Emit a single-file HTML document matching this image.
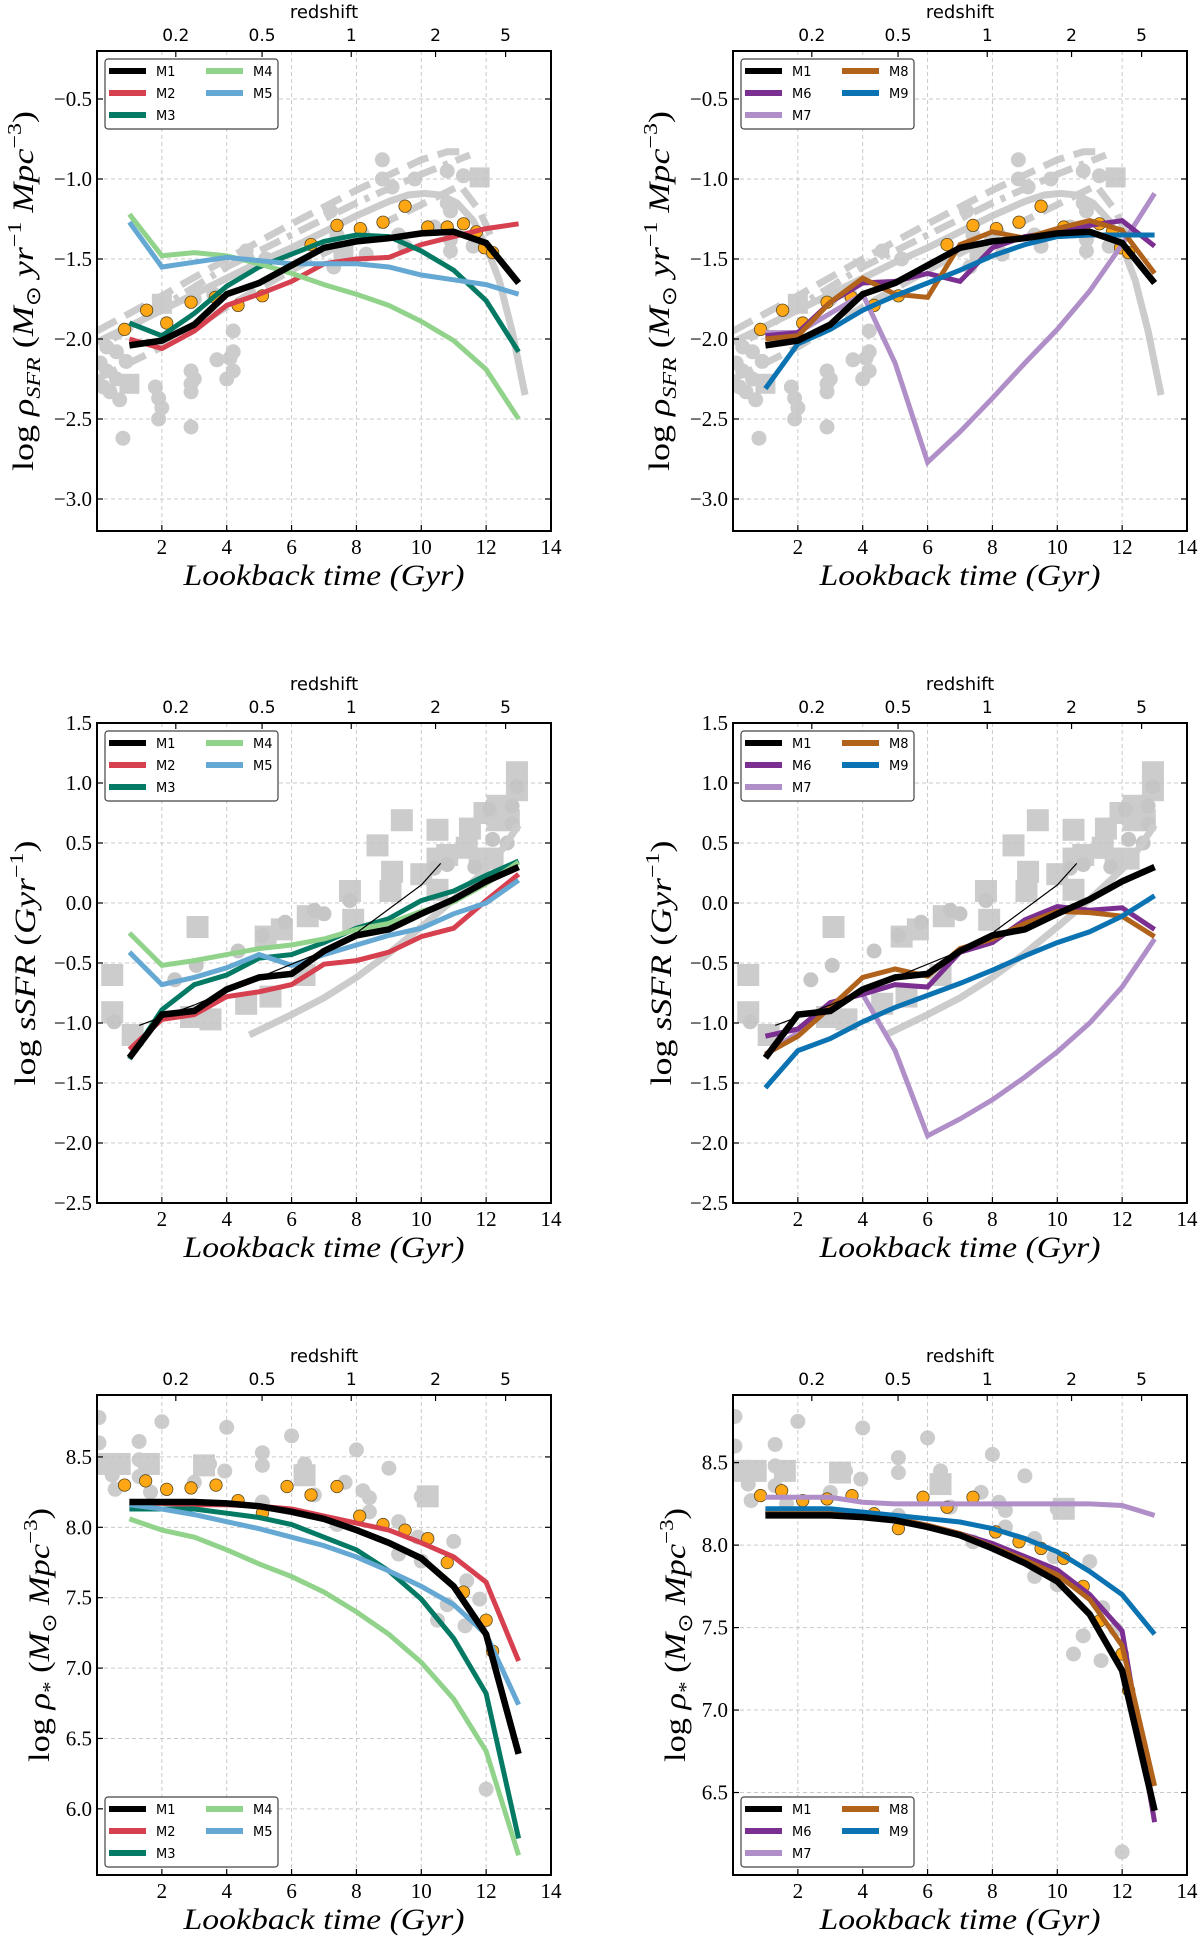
<!DOCTYPE html>
<html><head><meta charset="utf-8"><title>Cosmic SFR, sSFR and stellar mass density</title>
<style>
html,body{margin:0;padding:0;background:#fff;}
svg{display:block;}
</style></head>
<body>
<svg id="fig" xmlns="http://www.w3.org/2000/svg" width="1200" height="1941" viewBox="0 0 1200 1941"></svg>
<script>
// ---------- data ----------
const gyr = [1,2,3,4,5,6,7,8,9,10,11,12,13];
const xTicks = [2,4,6,8,10,12,14];
const zTickLabels = ['0.2','0.5','1','2','5'];
const zTickGyr = [2.43,5.09,7.84,10.44,12.6];
const sfrTicks = [-3.0,-2.5,-2.0,-1.5,-1.0,-0.5];
const ssfrTicks = [-2.5,-2.0,-1.5,-1.0,-0.5,0.0,0.5,1.0,1.5];
const massTicksL = [6.0,6.5,7.0,7.5,8.0,8.5];
const massTicksR = [6.5,7.0,7.5,8.0,8.5];

// SFR density
const m1Sfr = [-2.04,-2.01,-1.91,-1.72,-1.65,-1.54,-1.43,-1.39,-1.37,-1.34,-1.33,-1.40,-1.65];
const m2Sfr = [-2.00,-2.06,-1.95,-1.79,-1.72,-1.64,-1.53,-1.50,-1.49,-1.41,-1.36,-1.31,-1.28];
const m3Sfr = [-1.90,-1.98,-1.84,-1.67,-1.55,-1.47,-1.39,-1.35,-1.36,-1.45,-1.57,-1.76,-2.08];
const m4Sfr = [-1.22,-1.48,-1.46,-1.48,-1.53,-1.59,-1.66,-1.72,-1.79,-1.89,-2.01,-2.19,-2.50];
const m5Sfr = [-1.27,-1.55,-1.52,-1.49,-1.51,-1.53,-1.53,-1.53,-1.55,-1.60,-1.63,-1.66,-1.72];
const m6Sfr = [-1.98,-1.96,-1.77,-1.65,-1.64,-1.59,-1.64,-1.43,-1.36,-1.33,-1.29,-1.26,-1.42];
const m7Sfr = [-1.96,-1.96,-1.84,-1.72,-2.15,-2.77,-2.58,-2.37,-2.15,-1.94,-1.70,-1.41,-1.09];
const m8Sfr = [-2.00,-1.98,-1.77,-1.62,-1.72,-1.74,-1.41,-1.33,-1.37,-1.31,-1.26,-1.32,-1.59];
const m9Sfr = [-2.31,-2.03,-1.94,-1.82,-1.73,-1.65,-1.57,-1.48,-1.41,-1.36,-1.35,-1.35,-1.35];

const sfrOrangeT = [0.85,1.53,2.15,2.9,3.65,4.35,5.1,6.6,7.4,8.12,8.82,9.5,10.2,10.8,11.3,11.7,11.95,12.2];
const sfrOrangeV = [-1.94,-1.82,-1.90,-1.77,-1.74,-1.79,-1.73,-1.41,-1.29,-1.31,-1.27,-1.17,-1.30,-1.30,-1.28,-1.33,-1.43,-1.46];
const sfrGrayT = [0.1,0.3,0.4,0.6,0.7,0.8,0.6,0.3,1.0,1.8,1.9,1.9,2.0,2.9,2.9,2.9,2.9,3.0,3.7,4.0,4.1,4.2,4.2,4.2,3.0,3.6,4.6,5.2,7.2,7.3,7.4,8.3,8.8,8.8,9.1,9.3,9.5,9.8,10.4,10.8,10.8,10.9,10.9,10.9,11.3,11.6,0.2,0.9];
const sfrGrayV = [-2.15,-2.05,-2.33,-2.25,-2.38,-2.62,-2.08,-2.20,-2.27,-2.30,-2.37,-2.50,-2.43,-2.20,-2.28,-2.33,-2.55,-2.25,-2.13,-2.25,-2.12,-2.08,-1.95,-2.20,-1.75,-1.72,-1.45,-1.50,-1.20,-1.55,-1.35,-1.47,-1.00,-0.88,-1.05,-1.35,-1.42,-1.00,-1.30,-0.95,-1.15,-1.20,-1.38,-1.45,-0.98,-1.42,-2.30,-2.14];
const sfrSquareT = [11.8,1.0,2.0,7.6];
const sfrSquareV = [-0.99,-2.28,-1.78,-1.45];
const sfrSolidT = [0,1,2,3,4,5,6,7,8,9,9.6,10.1,10.6,11.1,11.6,12.0,12.4,12.8,13.2];
const sfrSolidV = [-2.02,-1.92,-1.82,-1.72,-1.62,-1.52,-1.43,-1.33,-1.23,-1.14,-1.10,-1.09,-1.10,-1.15,-1.26,-1.42,-1.63,-1.95,-2.35];
const sfrDashT = [0,2,4,6,8,10,10.8,11.3];
const sfrDashV = [-1.95,-1.73,-1.50,-1.28,-1.07,-0.88,-0.83,-0.83];
const sfrDashDotT = [0.5,2,4,6,8,10,11.5];
const sfrDashDotV = [-2.00,-1.80,-1.55,-1.35,-1.15,-0.97,-0.85];
const sfrLowDashT = [0,2,4,6,8,10,11.2,11.8,12.2];
const sfrLowDashV = [-2.25,-2.05,-1.80,-1.57,-1.36,-1.16,-1.04,-1.20,-1.38];

// sSFR
const m1Ssfr = [-1.29,-0.93,-0.90,-0.72,-0.62,-0.59,-0.40,-0.27,-0.22,-0.09,0.03,0.18,0.30];
const m2Ssfr = [-1.22,-0.97,-0.93,-0.78,-0.74,-0.68,-0.51,-0.48,-0.41,-0.28,-0.21,0.02,0.24];
const m3Ssfr = [-1.30,-0.89,-0.68,-0.60,-0.46,-0.43,-0.33,-0.21,-0.13,0.02,0.10,0.23,0.35];
const m4Ssfr = [-0.25,-0.52,-0.48,-0.43,-0.38,-0.35,-0.30,-0.22,-0.17,-0.07,0.01,0.16,0.34];
const m5Ssfr = [-0.41,-0.68,-0.62,-0.54,-0.43,-0.52,-0.43,-0.35,-0.27,-0.21,-0.09,0.00,0.19];
const m6Ssfr = [-1.11,-1.05,-0.83,-0.76,-0.68,-0.70,-0.41,-0.33,-0.14,-0.03,-0.06,-0.04,-0.22];
const m7Ssfr = [-1.26,-1.08,-0.83,-0.76,-1.23,-1.94,-1.80,-1.64,-1.45,-1.24,-1.00,-0.70,-0.30];
const m8Ssfr = [-1.26,-1.11,-0.87,-0.62,-0.55,-0.61,-0.38,-0.30,-0.17,-0.07,-0.08,-0.11,-0.28];
const m9Ssfr = [-1.54,-1.23,-1.13,-0.99,-0.87,-0.77,-0.67,-0.56,-0.44,-0.33,-0.24,-0.11,0.06];

const ssfrSquareT = [0.47,0.47,1.1,3.1,2.9,3.5,4.6,5.35,5.2,5.7,6.4,6.5,7.8,7.9,8.65,9.1,9.05,9.4,10.0,10.5,10.5,10.8,10.5,11.5,11.4,11.8,11.95,12.35,12.6,12.95,12.95,12.7,12.35,12.2];
const ssfrSquareV = [-0.60,-0.91,-1.10,-0.20,-0.95,-0.97,-0.84,-0.78,-0.28,-0.22,-0.60,-0.11,0.10,-0.14,0.48,0.26,0.10,0.69,0.24,0.61,0.37,0.40,0.11,0.62,0.46,0.37,0.75,0.81,0.78,1.09,0.94,0.69,0.69,0.37];
const ssfrCircT = [0.53,2.4,3.06,4.35,5.1,5.8,6.7,7.0,7.8,10.8,10.4,11.65,12.2,12.65,12.8,12.95,12.1,12.8];
const ssfrCircV = [-0.99,-0.64,-0.52,-0.40,-0.27,-0.16,-0.06,-0.09,0.02,0.32,0.29,0.30,0.53,0.50,0.66,0.97,0.78,0.81];
const ssfrGrayT = [4.7,6,7,8,9,10,11,12,12.5,13];
const ssfrGrayV = [-1.10,-0.93,-0.79,-0.62,-0.42,-0.20,0.03,0.28,0.45,0.65];
const ssfrThinT = [1.3,3,5,7,8,9,10,10.6];
const ssfrThinV = [-1.02,-0.85,-0.62,-0.40,-0.25,-0.05,0.15,0.33];

// stellar mass density
const m1Mass = [8.18,8.18,8.18,8.17,8.15,8.11,8.06,7.98,7.89,7.78,7.58,7.24,6.39];
const m2Mass = [8.17,8.17,8.16,8.16,8.15,8.13,8.08,8.03,7.98,7.89,7.79,7.61,7.05];
const m3Mass = [8.13,8.13,8.13,8.10,8.07,8.02,7.93,7.84,7.69,7.49,7.21,6.82,5.79];
const m4Mass = [8.06,7.98,7.93,7.84,7.74,7.65,7.54,7.40,7.24,7.04,6.78,6.41,5.67];
const m5Mass = [8.16,8.13,8.09,8.04,7.99,7.93,7.87,7.79,7.69,7.58,7.45,7.24,6.74];
const m6Mass = [8.20,8.20,8.20,8.18,8.16,8.12,8.07,8.01,7.93,7.85,7.70,7.48,6.32];
const m7Mass = [8.29,8.29,8.29,8.26,8.25,8.25,8.25,8.25,8.25,8.25,8.25,8.24,8.18];
const m8Mass = [8.20,8.20,8.20,8.18,8.16,8.12,8.07,7.99,7.91,7.82,7.67,7.39,6.54];
const m9Mass = [8.22,8.22,8.22,8.20,8.18,8.16,8.14,8.10,8.04,7.96,7.84,7.70,7.46];

const massOrangeT = [0.85,1.5,2.15,2.9,3.67,4.35,5.1,5.86,6.6,7.4,8.1,8.82,9.5,10.2,10.8,11.3,12.0,12.2];
const massOrangeV = [8.30,8.33,8.27,8.28,8.30,8.19,8.10,8.29,8.23,8.29,8.08,8.02,7.98,7.92,7.75,7.54,7.34,7.12];
const massCircT = [0.06,0.06,0.47,0.56,1.3,1.3,1.3,1.65,2.0,3.0,3.47,3.94,4.0,5.1,5.1,5.1,6.0,6.4,6.4,6.7,7.4,7.65,8.0,8.2,8.4,8.4,9.0,9.3,9.3,9.9,10.0,10.0,11.0,10.8,10.5,11.4,11.8,11.35,12.0];
const massCircV = [8.78,8.60,8.37,8.27,8.61,8.48,8.36,8.25,8.75,8.32,8.45,8.40,8.71,8.53,8.44,8.18,8.65,8.45,8.38,8.23,8.02,8.32,8.55,8.26,8.21,8.11,8.42,8.04,7.81,7.93,8.22,7.76,7.90,7.45,7.34,7.62,7.49,7.30,6.14];
const massSquareT = [0.24,0.7,1.6,3.3,6.4,10.2];
const massSquareV = [8.45,8.45,8.45,8.44,8.37,8.22];

// ---------- styling (not data) ----------
const COL = {M1:'#000000',M2:'#d7404f',M3:'#047a64',M4:'#91d38b',M5:'#64a8d3',M6:'#7b2f90',M7:'#b08ec8',M8:'#b1621b',M9:'#0b73b2'};
const WID = {M1:6.5,M2:5,M3:5,M4:5,M5:5,M6:5,M7:5,M8:5,M9:5};

const NS = 'http://www.w3.org/2000/svg';
const svg = document.getElementById('fig');
function mk(tag, attrs, parent){
  const e = document.createElementNS(NS, tag);
  for (const k in attrs) e.setAttribute(k, attrs[k]);
  parent.appendChild(e);
  return e;
}
function fmt(v){ const s = Math.abs(v).toFixed(1); return (v < -1e-9 ? '\u2212' : '') + s; }

const PW = 454, PH = 480;
const panels = [
  {id:'sfr-left', x0:97, y0:51, ymin:-3.2, ymax:-0.2, ticks:sfrTicks, kind:'sfr', models:['M2','M3','M4','M5','M1'], legend:[['M1','M2','M3'],['M4','M5']], legendPos:'top', ylx:64, yll:360},
  {id:'sfr-right', x0:733, y0:51, ymin:-3.2, ymax:-0.2, ticks:sfrTicks, kind:'sfr', models:['M7','M6','M8','M9','M1'], legend:[['M1','M6','M7'],['M8','M9']], legendPos:'top', ylx:64, yll:360},
  {id:'ssfr-left', x0:97, y0:723, ymin:-2.5, ymax:1.5, ticks:ssfrTicks, kind:'ssfr', models:['M2','M3','M4','M5','M1'], legend:[['M1','M2','M3'],['M4','M5']], legendPos:'top', ylx:62, yll:245},
  {id:'ssfr-right', x0:733, y0:723, ymin:-2.5, ymax:1.5, ticks:ssfrTicks, kind:'ssfr', models:['M7','M6','M8','M9','M1'], legend:[['M1','M6','M7'],['M8','M9']], legendPos:'top', ylx:62, yll:245},
  {id:'mass-left', x0:97, y0:1395, ymin:5.53, ymax:8.94, ticks:massTicksL, kind:'mass', models:['M2','M3','M4','M5','M1'], legend:[['M1','M2','M3'],['M4','M5']], legendPos:'bottom', ylx:48, yll:254},
  {id:'mass-right', x0:733, y0:1395, ymin:6.0, ymax:8.91, ticks:massTicksR, kind:'mass', models:['M7','M6','M8','M9','M1'], legend:[['M1','M6','M7'],['M8','M9']], legendPos:'bottom', ylx:48, yll:254}
];
const series = {
  sfr:{M1:m1Sfr,M2:m2Sfr,M3:m3Sfr,M4:m4Sfr,M5:m5Sfr,M6:m6Sfr,M7:m7Sfr,M8:m8Sfr,M9:m9Sfr},
  ssfr:{M1:m1Ssfr,M2:m2Ssfr,M3:m3Ssfr,M4:m4Ssfr,M5:m5Ssfr,M6:m6Ssfr,M7:m7Ssfr,M8:m8Ssfr,M9:m9Ssfr},
  mass:{M1:m1Mass,M2:m2Mass,M3:m3Mass,M4:m4Mass,M5:m5Mass,M6:m6Mass,M7:m7Mass,M8:m8Mass,M9:m9Mass}
};

function pathFrom(ts, vs, sx, sy){
  let d = '';
  for (let i = 0; i < ts.length; i++) d += (i ? 'L' : 'M') + sx(ts[i]).toFixed(1) + ',' + sy(vs[i]).toFixed(1);
  return d;
}

function yLabel(g, p, cx, cy){
  const t = mk('text', {transform:'translate('+cx+','+cy+') rotate(-90)', 'text-anchor':'middle', 'font-family':'Liberation Serif, serif', 'font-size':'30', fill:'#000', textLength:p.yll, lengthAdjust:'spacingAndGlyphs'}, g);
  
  
  let segs;
  if (p.kind === 'sfr') segs = [['log ',''],['\u03c1','i'],['SFR','isub'],[' (',''],['M','i'],['\u2299','sub'],[' yr','i'],['\u22121','sup'],[' Mpc','i'],['\u22123','sup'],[')','']];
  else if (p.kind === 'ssfr') segs = [['log ',''],['sSFR','i'],[' (',''],['Gyr','i'],['\u22121','sup'],[')','']];
  else segs = [['log ',''],['\u03c1','i'],['*','sub'],[' (',''],['M','i'],['\u2299','sub'],[' Mpc','i'],['\u22123','sup'],[')','']];
  let shift = 0;
  segs.forEach(s => {
    const a = {};
    let target = 0;
    if (s[1].includes('sub')) { a['font-size'] = '20'; target = 7; }
    if (s[1].includes('sup')) { a['font-size'] = '20'; target = -12; }
    if (s[1].includes('i')) a['font-style'] = 'italic';
    const dy = target - shift; shift = target;
    if (dy !== 0) a.dy = dy;
    const ts = mk('tspan', a, t);
    ts.textContent = s[0];
  });
}

panels.forEach(p => {
  const g = mk('g', {}, svg);
  
  
  const sx = t => p.x0 + t / 14 * PW;
  const sy = v => p.y0 + (p.ymax - v) / (p.ymax - p.ymin) * PH;
  const clipId = 'clip-' + p.id;
  const cp = mk('clipPath', {id:clipId}, mk('defs', {}, g));
  mk('rect', {x:p.x0, y:p.y0, width:PW, height:PH}, cp);

  const grid = mk('g', {stroke:'#c9c9c9', 'stroke-width':1, 'stroke-dasharray':'4,3'}, g);
  
  
  xTicks.forEach(t => { if (t < 14) mk('line', {x1:sx(t), x2:sx(t), y1:p.y0, y2:p.y0 + PH}, grid); });
  p.ticks.forEach(v => mk('line', {x1:p.x0, x2:p.x0 + PW, y1:sy(v), y2:sy(v)}, grid));

  const plot = mk('g', {'clip-path':'url(#' + clipId + ')'}, g);
  
  

  const gray = mk('g', {opacity:0.85}, plot);
  
  
  if (p.kind === 'sfr') {
    const c1 = mk('path', {d:pathFrom(sfrSolidT, sfrSolidV, sx, sy), fill:'none', stroke:'#c4c4c4', 'stroke-width':7}, gray);
    
    
    const c2 = mk('path', {d:pathFrom(sfrDashT, sfrDashV, sx, sy), fill:'none', stroke:'#c4c4c4', 'stroke-width':7, 'stroke-dasharray':'22,10'}, gray);
    
    
    const c3 = mk('path', {d:pathFrom(sfrDashDotT, sfrDashDotV, sx, sy), fill:'none', stroke:'#c4c4c4', 'stroke-width':7, 'stroke-dasharray':'22,8,5,8'}, gray);
    
    
    const c4 = mk('path', {d:pathFrom(sfrLowDashT, sfrLowDashV, sx, sy), fill:'none', stroke:'#c4c4c4', 'stroke-width':7, 'stroke-dasharray':'22,10'}, gray);
    
    
    sfrGrayT.forEach((t, i) => {
      const c = mk('circle', {cx:sx(t), cy:sy(sfrGrayV[i]), r:7.5, fill:'#c4c4c4'}, gray);
      
      
    });
    sfrSquareT.forEach((t, i) => {
      const r = mk('rect', {x:sx(t) - 10, y:sy(sfrSquareV[i]) - 10, width:20, height:20, fill:'#c4c4c4'}, gray);
      
      
    });
  } else if (p.kind === 'ssfr') {
    ssfrSquareT.forEach((t, i) => {
      const r = mk('rect', {x:sx(t) - 11, y:sy(ssfrSquareV[i]) - 11, width:22, height:22, fill:'#c4c4c4'}, gray);
      
      
    });
    ssfrCircT.forEach((t, i) => {
      const c = mk('circle', {cx:sx(t), cy:sy(ssfrCircV[i]), r:7.5, fill:'#bdbdbd'}, gray);
      
      
    });
    const c1 = mk('path', {d:pathFrom(ssfrGrayT, ssfrGrayV, sx, sy), fill:'none', stroke:'#c4c4c4', 'stroke-width':7}, gray);
    
    
  } else {
    massSquareT.forEach((t, i) => {
      const r = mk('rect', {x:sx(t) - 11, y:sy(massSquareV[i]) - 11, width:22, height:22, fill:'#c4c4c4'}, gray);
      
      
    });
    massCircT.forEach((t, i) => {
      const c = mk('circle', {cx:sx(t), cy:sy(massCircV[i]), r:7.5, fill:'#c4c4c4'}, gray);
      
      
    });
  }

  if (p.kind === 'sfr' || p.kind === 'mass') {
    const og = mk('g', {}, plot);
    
    
    const ot = p.kind === 'sfr' ? sfrOrangeT : massOrangeT;
    const ov = p.kind === 'sfr' ? sfrOrangeV : massOrangeV;
    ot.forEach((t, i) => {
      const c = mk('circle', {cx:sx(t), cy:sy(ov[i]), r:6.2, fill:'#ffa614', stroke:'#5a4a20', 'stroke-width':0.8}, og);
      
      
    });
  }

  p.models.forEach(m => {
    const vals = series[p.kind][m];
    const l = mk('path', {d:pathFrom(gyr, vals, sx, sy), fill:'none', stroke:COL[m], 'stroke-width':WID[m], 'stroke-linejoin':'miter'}, plot);
    
    
  });
  if (p.kind === 'ssfr') {
    const th = mk('path', {d:pathFrom(ssfrThinT, ssfrThinV, sx, sy), fill:'none', stroke:'#000', 'stroke-width':1.2}, plot);
    
    
  }

  const fr = mk('rect', {x:p.x0, y:p.y0, width:PW, height:PH, fill:'none', stroke:'#000', 'stroke-width':2}, g);
  
  

  const ax = mk('g', {stroke:'#000', 'stroke-width':1.2}, g);
  
  
  xTicks.forEach(t => {
    mk('line', {x1:sx(t), x2:sx(t), y1:p.y0 + PH, y2:p.y0 + PH - 6}, ax);
    const tl = mk('text', {x:sx(t), y:p.y0 + PH + 23, 'text-anchor':'middle', 'font-family':'Liberation Serif, serif', 'font-size':'21', fill:'#000'}, g);
    
    
    tl.textContent = String(t);
  });
  zTickGyr.forEach((t, i) => {
    mk('line', {x1:sx(t), x2:sx(t), y1:p.y0, y2:p.y0 + 6}, ax);
    const tl = mk('text', {x:sx(t), y:p.y0 - 10, 'text-anchor':'middle', 'font-family':'DejaVu Sans, Liberation Sans, sans-serif', 'font-size':'17', fill:'#000'}, g);
    
    
    tl.textContent = zTickLabels[i];
  });
  p.ticks.forEach(v => {
    mk('line', {x1:p.x0, x2:p.x0 + 6, y1:sy(v), y2:sy(v)}, ax);
    mk('line', {x1:p.x0 + PW, x2:p.x0 + PW - 6, y1:sy(v), y2:sy(v)}, ax);
    const tl = mk('text', {x:p.x0 - 5, y:sy(v) + 7, 'text-anchor':'end', 'font-family':'Liberation Serif, serif', 'font-size':'21', fill:'#000'}, g);
    
    
    tl.textContent = fmt(v);
  });

  const rz = mk('text', {x:p.x0 + PW / 2, y:p.y0 - 33, 'text-anchor':'middle', 'font-family':'DejaVu Sans, Liberation Sans, sans-serif', 'font-size':'18', fill:'#000'}, g);
  
  
  rz.textContent = 'redshift';

  const xl = mk('text', {x:p.x0 + PW / 2, y:p.y0 + PH + 54, 'text-anchor':'middle', 'font-family':'Liberation Serif, serif', 'font-style':'italic', 'font-size':'30', fill:'#000', textLength:281, lengthAdjust:'spacingAndGlyphs'}, g);
  
  
  xl.textContent = 'Lookback time (Gyr)';

  yLabel(g, p, p.x0 - p.ylx, p.y0 + PH / 2);

  const lg = mk('g', {}, g);
  
  
  const lx = p.x0 + 8;
  const ly = p.legendPos === 'top' ? p.y0 + 8 : p.y0 + PH - 78;
  mk('rect', {x:lx, y:ly, width:173, height:70, rx:3, fill:'#fff', stroke:'#444', 'stroke-width':1.2}, lg);
  p.legend.forEach((col, ci) => {
    col.forEach((m, ri) => {
      const ey = ly + 12 + ri * 22;
      const ex = lx + 4 + ci * 97;
      const e = mk('g', {}, lg);
      
      
      mk('line', {x1:ex, x2:ex + 37, y1:ey, y2:ey, stroke:COL[m], 'stroke-width':6}, e);
      const tx = mk('text', {x:ex + 47, y:ey + 5, 'font-family':'DejaVu Sans, Liberation Sans, sans-serif', 'font-size':'13', fill:'#000'}, e);
      tx.textContent = m;
    });
  });
});
</script>
</body></html>
